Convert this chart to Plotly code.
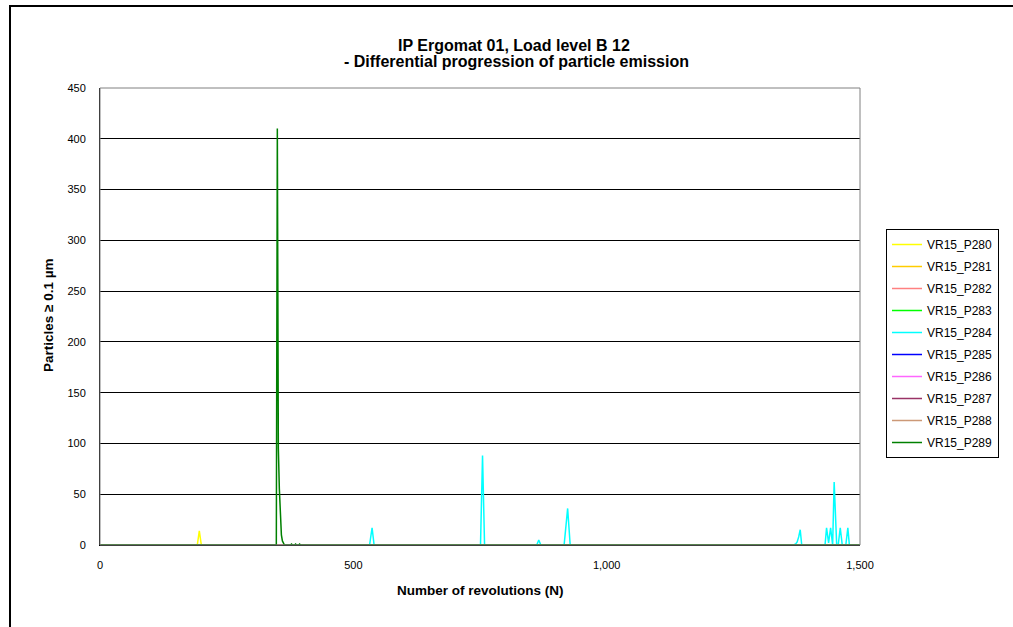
import plotly.graph_objects as go

# ---- data ----
series_names = ["VR15_P280", "VR15_P281", "VR15_P282", "VR15_P283", "VR15_P284",
                "VR15_P285", "VR15_P286", "VR15_P287", "VR15_P288", "VR15_P289"]
series_colors = ["#FFFF00", "#FFCC00", "#FF8080", "#00FF00", "#00FFFF",
                 "#0000FF", "#FF66FF", "#993366", "#CC9977", "#008000"]

p280_x = [0, 192, 196, 200, 1500]
p280_y = [0, 0, 14, 0, 0]

p281_x = [0, 1500]
p281_y = [0, 0]
p282_x = [0, 1500]
p282_y = [0, 0]
p283_x = [0, 1500]
p283_y = [0, 0]

p284_x = [0, 532, 537, 541, 751, 755, 759, 862, 866, 870, 916, 923, 928,
          1369, 1373, 1376, 1379, 1382, 1385,
          1431, 1434, 1438, 1442, 1446, 1449, 1454, 1457, 1461, 1465, 1472, 1476, 1479, 1500]
p284_y = [0, 0, 17, 0, 0, 88, 0, 0, 5, 0, 0, 36, 0,
          0, 1, 3, 8, 15, 0,
          0, 17, 2, 17, 0, 62, 0, 0, 17, 0, 0, 17, 0, 0]

p285_x = [0, 1500]
p285_y = [0, 0]
p286_x = [0, 1500]
p286_y = [0, 0]
p287_x = [0, 1500]
p287_y = [0, 0]
p288_x = [0, 1500]
p288_y = [0, 0]

p289_x = [0, 348, 350, 352, 354, 356, 358, 360, 362, 364, 376, 378, 380, 384, 386, 388, 392, 394, 396, 1500]
p289_y = [0, 0, 410, 95, 55, 25, 10, 4, 1, 0, 0, 1, 0, 0, 1, 0, 0, 1, 0, 0]

series_x = [p280_x, p281_x, p282_x, p283_x, p284_x, p285_x, p286_x, p287_x, p288_x, p289_x]
series_y = [p280_y, p281_y, p282_y, p283_y, p284_y, p285_y, p286_y, p287_y, p288_y, p289_y]

x_ticks = [0, 500, 1000, 1500]
y_ticks = [0, 50, 100, 150, 200, 250, 300, 350, 400, 450]

title_line1 = "IP Ergomat 01, Load level B 12"
title_line2 = "- Differential progression of particle emission"
x_title = "Number of revolutions (N)"
y_title = "Particles ≥ 0.1 µm"

FONT = "Liberation Sans, Arial, sans-serif"

fig = go.Figure()
for name, color, xs, ys in zip(series_names, series_colors, series_x, series_y):
    fig.add_trace(go.Scatter(x=xs, y=ys, mode="lines", name=name, legendgroup=name,
                             line=dict(color=color, width=1.5)))

W, H = 1013, 627
L, R, T, B = 100, 153, 88, 82
pw, ph = W - L - R, H - T - B

def px_x(p):
    return (p - L) / pw

def px_y(p):
    return (H - B - p) / ph

def label(text, x, y, size, angle=0):
    return dict(text="<b>" + text + "</b>", x=px_x(x), y=px_y(y), xref="paper", yref="paper",
                xanchor="center", yanchor="middle", showarrow=False, textangle=angle,
                font=dict(family=FONT, size=size, color="black"))

fig.update_layout(
    width=W, height=H,
    margin=dict(l=L, r=R, t=T, b=B),
    paper_bgcolor="white", plot_bgcolor="white",
    font=dict(family=FONT, size=11, color="black"),
    showlegend=True,
    legend=dict(x=px_x(886), y=px_y(229), xanchor="left", yanchor="top",
                bordercolor="black", borderwidth=1, bgcolor="white",
                font=dict(family=FONT, size=12, color="black"),
                itemwidth=30, tracegroupgap=3, traceorder="grouped"),
    xaxis=dict(range=[0, 1500], tickvals=x_ticks, tickformat=",", showgrid=False,
               showline=True, linecolor="black", linewidth=1, zeroline=False,
               ticks="outside", ticklen=10, tickcolor="rgba(0,0,0,0)",
               tickfont=dict(family=FONT, size=11, color="black")),
    yaxis=dict(range=[0, 450], tickvals=y_ticks, showgrid=True, gridcolor="black", gridwidth=1,
               showline=True, linecolor="black", linewidth=1, zeroline=False,
               ticks="outside", ticklen=11, tickcolor="rgba(0,0,0,0)",
               tickfont=dict(family=FONT, size=11, color="black")),
    annotations=[
        label(title_line1, 514, 45, 16),
        label(title_line2, 516, 62, 16),
        label(x_title, 481, 590, 13.5),
        label(y_title, 48, 315, 13.5, -90),
    ],
    shapes=[
        dict(type="rect", xref="paper", yref="paper", x0=0, x1=1, y0=0, y1=1,
             line=dict(color="#808080", width=1), layer="above"),
        dict(type="rect", xref="paper", yref="paper", x0=px_x(10), x1=px_x(1030),
             y0=px_y(640), y1=px_y(6), line=dict(color="black", width=2), layer="above"),
    ],
)

fig.write_html("out.html")
